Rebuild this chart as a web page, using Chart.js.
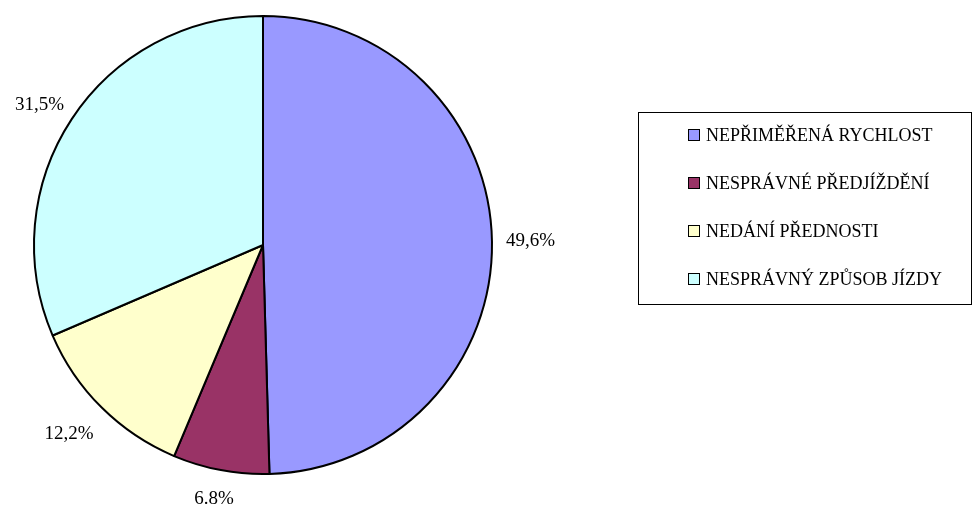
<!DOCTYPE html>
<html>
<head>
<meta charset="utf-8">
<script src="https://cdn.jsdelivr.net/npm/chart.js@4"></script>
<style>
  html, body { margin: 0; padding: 0; background: #fff; }
  #wrap { width: 976px; height: 507px; }
</style>
</head>
<body>
<div id="wrap"><canvas id="graf" width="976" height="507"></canvas></div>
<script>
const kategorie = ['NEPŘIMĚŘENÁ RYCHLOST', 'NESPRÁVNÉ PŘEDJÍŽDĚNÍ', 'NEDÁNÍ PŘEDNOSTI', 'NESPRÁVNÝ ZPŮSOB JÍZDY'];
const hodnoty = [49.6, 6.8, 12.2, 31.5];
const popisky = ['49,6%', '6.8%', '12,2%', '31,5%'];
const barvy = ['#9999FF', '#993366', '#FFFFCC', '#CCFFFF'];

const pismo = '"Liberation Serif", "Times New Roman", serif';

// popisky procent vně výsečí
const popiskyPlugin = {
    id: 'popisky',
    afterDatasetsDraw(chart) {
        const ctx = chart.ctx;
        const meta = chart.getDatasetMeta(0);
        ctx.save();
        ctx.font = '19px ' + pismo;
        ctx.fillStyle = '#000';
        ctx.textAlign = 'center';
        ctx.textBaseline = 'middle';
        meta.data.forEach((arc, i) => {
            const uhel = (arc.startAngle + arc.endAngle) / 2;
            const dx = Math.cos(uhel), dy = Math.sin(uhel);
            const w = ctx.measureText(popisky[i]).width;
            const ex = arc.x + dx * arc.outerRadius;
            const ey = arc.y + dy * arc.outerRadius;
            // šikmé popisky v dolní polovině odsunout o něco dál
            const sikmo = dy > 0 ? Math.abs(dx * dy) * 2 : 0;
            const x = ex + dx * (14 + w / 2 + sikmo * 8);
            const y = ey + dy * (16 + 19 / 2 + sikmo * 12);
            ctx.fillText(popisky[i], x, y);
        });
        ctx.restore();
    }
};

// legenda v rámečku vpravo
const legendaPlugin = {
    id: 'legenda',
    afterDraw(chart) {
        const ctx = chart.ctx;
        ctx.save();
        ctx.strokeStyle = '#000';
        ctx.lineWidth = 1;
        ctx.strokeRect(638.5, 112.5, 333, 192);
        ctx.font = '18px ' + pismo;
        ctx.textBaseline = 'middle';
        ctx.textAlign = 'left';
        kategorie.forEach((k, i) => {
            const y = 135 + i * 48;
            ctx.fillStyle = barvy[i];
            ctx.fillRect(689, y - 5, 11, 11);
            ctx.strokeRect(688.5, y - 5.5, 11, 11);
            ctx.fillStyle = '#000';
            ctx.fillText(k, 706, y + 1);
        });
        ctx.restore();
    }
};

new Chart(document.getElementById('graf'), {
    type: 'pie',
    data: {
        labels: kategorie,
        datasets: [{
            data: hodnoty,
            backgroundColor: barvy,
            borderColor: '#000',
            borderWidth: 2
        }]
    },
    options: {
        responsive: false,
        animation: false,
        layout: { padding: { top: 15, bottom: 32, left: 33, right: 483 } },
        plugins: {
            legend: { display: false },
            tooltip: { enabled: false }
        }
    },
    plugins: [popiskyPlugin, legendaPlugin]
});
</script>
</body>
</html>
